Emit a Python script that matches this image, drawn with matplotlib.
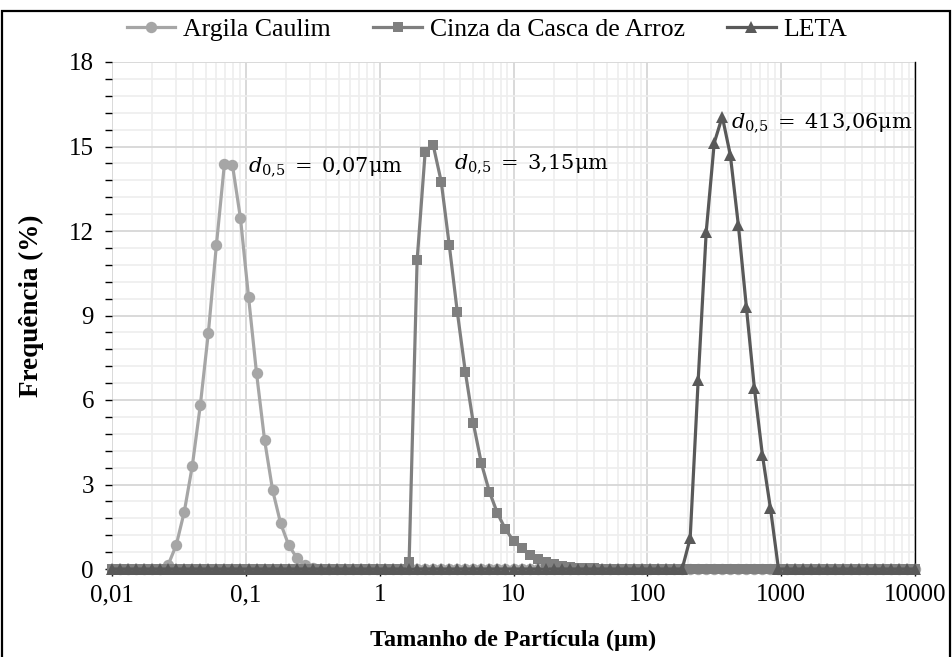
import numpy as np
import matplotlib
matplotlib.use("Agg")
import matplotlib.pyplot as plt
from matplotlib.patches import Rectangle
from matplotlib.ticker import FixedLocator, MultipleLocator, NullFormatter

plt.rcParams["font.family"] = ["Liberation Serif", "DejaVu Serif"]
plt.rcParams["mathtext.fontset"] = "dejavuserif"

# particle size classes (um), 100 log intervals from 0.01 to 10000
sizes = np.logspace(-2, 4, 101)

# frequency (%), non-zero stretch of each curve
argila_start = 7
argila_vals = [0.15, 0.85, 2.03, 3.66, 5.82, 8.39, 11.5, 14.38, 14.34, 12.45,
               9.67, 6.95, 4.58, 2.8, 1.62, 0.85, 0.4, 0.15, 0.05]
cinza_start = 37
cinza_vals = [0.25, 10.97, 14.81, 15.05, 13.75, 11.5, 9.13, 7.0, 5.17, 3.75,
              2.74, 1.98, 1.41, 1.0, 0.73, 0.5, 0.35, 0.25, 0.17, 0.12,
              0.08, 0.05, 0.03, 0.02]
leta_start = 72
leta_vals = [1.09, 6.71, 11.97, 15.13, 16.06, 14.7, 12.21, 9.3, 6.41, 4.04, 2.15]

labels = ["Argila Caulim", "Cinza da Casca de Arroz", "LETA"]
d50_text = [r"$d_{0{,}5}\;=\;\mathrm{0{,}07μm}$",
            r"$d_{0{,}5}\;=\;\mathrm{3{,}15μm}$",
            r"$d_{0{,}5}\;=\;\mathrm{413{,}06μm}$"]
x_ticks = [0.01, 0.1, 1, 10, 100, 1000, 10000]
x_ticklabels = ["0,01", "0,1", "1", "10", "100", "1000", "10000"]


def full_series(start, vals):
    freq = np.zeros(len(sizes))
    freq[start:start + len(vals)] = vals
    return freq


argila = full_series(argila_start, argila_vals)
cinza = full_series(cinza_start, cinza_vals)
leta = full_series(leta_start, leta_vals)

fig = plt.figure(figsize=(9.52, 6.57), dpi=100)
ax = fig.add_axes([112 / 952, 1 - 569 / 657, (915 - 112) / 952, (569 - 62) / 657])

styles = [
    (argila, "#A6A6A6", "o", 8.2),
    (cinza, "#7F7F7F", "s", 7.2),
    (leta, "#595959", "^", 8.8),
]
for (y, color, marker, ms), lab in zip(styles, labels):
    ax.plot(sizes, y, color=color, lw=2.3, marker=marker, ms=ms,
            markeredgewidth=0, label=lab, clip_on=False, zorder=3)

ax.set_xscale("log")
ax.set_xlim(0.01, 10000)
ax.set_ylim(0, 18)

ax.xaxis.set_major_locator(FixedLocator(x_ticks))
ax.set_xticklabels(x_ticklabels)
ax.xaxis.set_minor_formatter(NullFormatter())
ax.yaxis.set_major_locator(MultipleLocator(3))
ax.yaxis.set_minor_locator(MultipleLocator(0.6))

ax.grid(which="major", color="#D9D9D9", lw=1.4)
ax.grid(which="minor", color="#EEEEEE", lw=1.2)
ax.set_axisbelow(True)

for side in ["top", "left"]:
    ax.spines[side].set_visible(False)
ax.spines["bottom"].set_color("#595959")
ax.spines["right"].set_color("black")
ax.spines["right"].set_linewidth(1.0)

ax.tick_params(axis="both", which="major", labelsize=18, length=5, width=1,
               color="black")
ax.tick_params(axis="x", which="major", pad=6)
ax.tick_params(axis="y", which="major", pad=8)
ax.tick_params(axis="y", which="minor", length=5, width=1, color="black")
ax.tick_params(axis="x", which="minor", length=3, width=1, color="black")

ax.set_ylabel("Frequência (%)", fontsize=19.5, fontweight="bold")
ax.yaxis.set_label_coords(-0.085, 0.52)
ax.set_xlabel("Tamanho de Partícula (μm)", fontsize=17.5, fontweight="bold", labelpad=17)

# d0.5 annotations
ax.text(0.104, 14.3, d50_text[0], fontsize=15, va="center", ha="left")
ax.text(3.6, 14.4, d50_text[1], fontsize=15, va="center", ha="left")
ax.text(423, 15.85, d50_text[2], fontsize=15, va="center", ha="left")

fig.legend(loc="center", bbox_to_anchor=(487 / 952, 1 - 30 / 657), ncol=3,
           frameon=False, fontsize=18.5, handlelength=1.9, columnspacing=1.65,
           handletextpad=0.3)

# chart frame
fig.patches.append(Rectangle((2 / 952, -0.05), 948 / 952, 1 - 10.5 / 657 + 0.05,
                             transform=fig.transFigure, fill=False,
                             edgecolor="black", lw=1.6, clip_on=False))

fig.savefig("out.png", dpi=100)
